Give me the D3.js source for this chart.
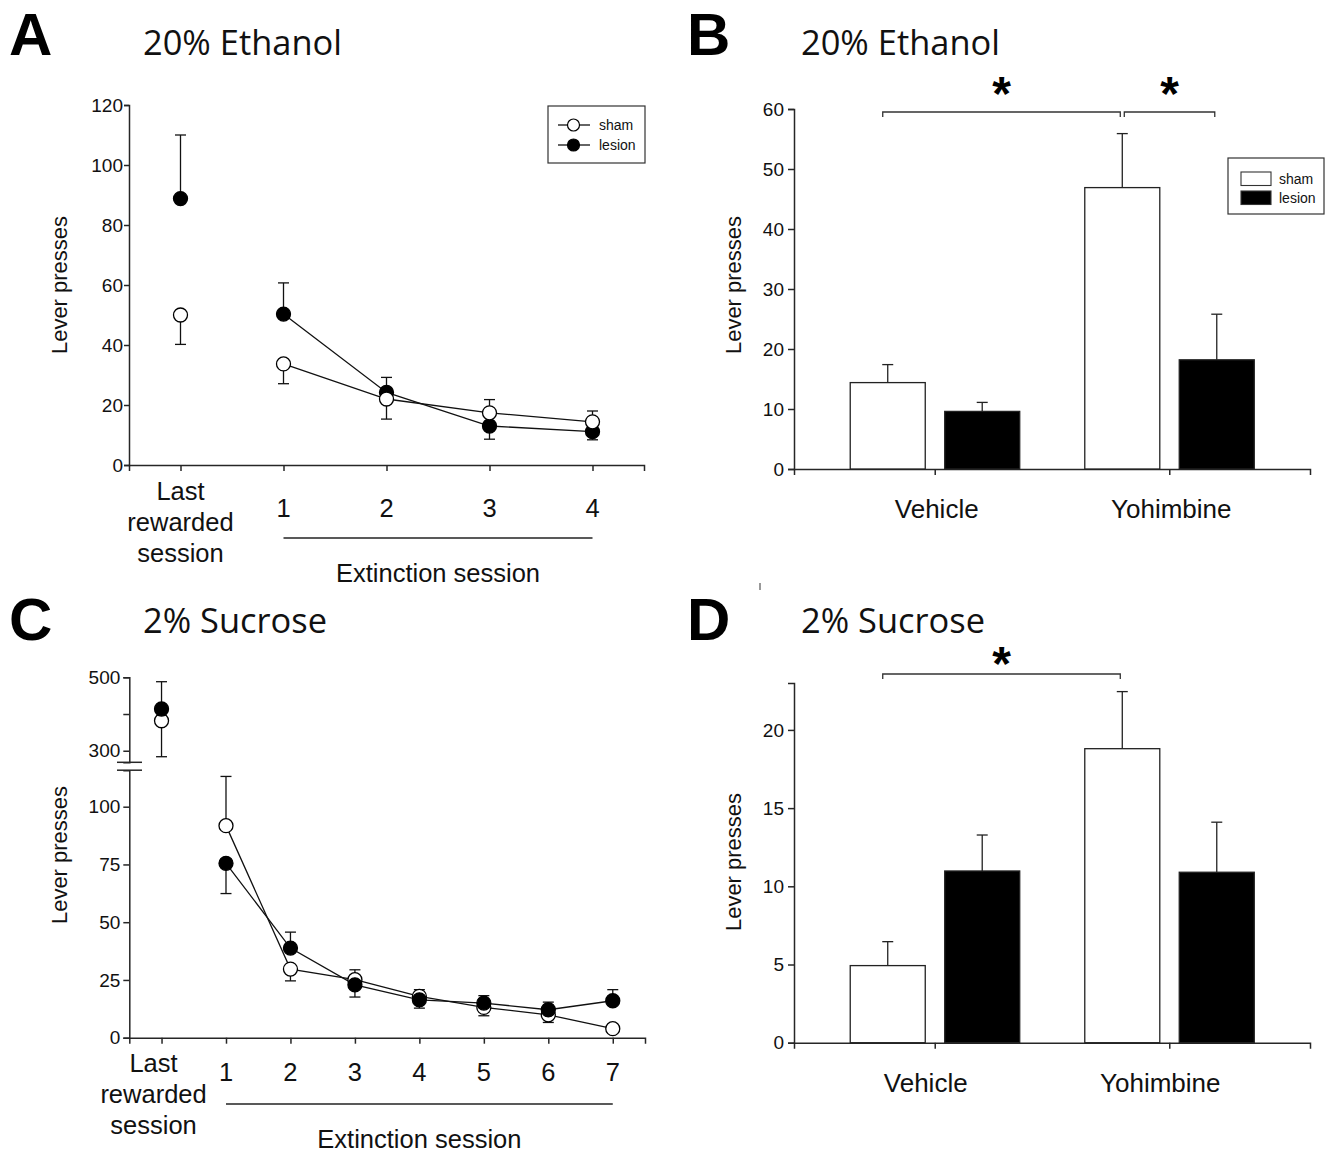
<!DOCTYPE html>
<html><head><meta charset="utf-8">
<script src="https://cdn.jsdelivr.net/npm/d3@7"></script>
<style>body{margin:0;background:#fff}</style>
</head><body>
<svg id="c" width="1327" height="1155" xmlns="http://www.w3.org/2000/svg"></svg>
<script>
// ---------------- DATA ----------------
const seriesNames = ["sham", "lesion"];
const panelLetters = ["A", "B", "C", "D"];
const panelTitles = ["20% Ethanol", "20% Ethanol", "2% Sucrose", "2% Sucrose"];
const yAxisTitle = "Lever presses";
const groupAxisTitle = "Extinction session";

// Panel A – 20% ethanol, extinction
const sessionsA = ["Last rewarded session", "1", "2", "3", "4"];
const shamA = [50.0, 33.7, 22.0, 17.4, 14.4];
const shamSemA = [9.8, 6.6, 6.7, 4.4, 3.6];
const lesionA = [88.8, 50.3, 24.2, 13.0, 11.1];
const lesionSemA = [21.2, 10.4, 5.0, 4.4, 2.7];
const yTicksA = [0, 20, 40, 60, 80, 100, 120];

// Panel C – 2% sucrose, extinction (broken axis)
const sessionsC = ["Last rewarded session", "1", "2", "3", "4", "5", "6", "7"];
const shamC = [381.7, 91.8, 29.7, 25.1, 17.9, 13.1, 9.9, 3.9];
const shamSemC = [98.0, 21.3, 5.1, 4.3, 2.9, 3.6, 3.3, 0.5];
const lesionC = [413.6, 75.5, 38.8, 22.9, 16.4, 15.0, 12.1, 16.0];
const lesionSemC = [74.4, 13.1, 6.9, 5.3, 3.6, 3.2, 3.3, 4.8];
const yTicksCLow = [0, 25, 50, 75, 100];
const yTicksCHigh = [300, 400, 500];
const yTickLabelsCHigh = ["300", "", "500"];

// Panels B & D – reinstatement
const treatments = ["Vehicle", "Yohimbine"];
const shamB = [14.4, 46.9];
const shamSemB = [3.0, 9.0];
const lesionB = [9.6, 18.2];
const lesionSemB = [1.5, 7.6];
const yTicksB = [0, 10, 20, 30, 40, 50, 60];
const sigB = [[0, "sham", 1, "sham"], [1, "sham", 1, "lesion"]];

const shamD = [4.93, 18.8];
const shamSemD = [1.53, 3.65];
const lesionD = [10.98, 10.9];
const lesionSemD = [2.3, 3.2];
const yTicksD = [0, 5, 10, 15, 20];
const sigD = [[0, "sham", 1, "sham"]];

// ---------------- DRAWING ----------------
const svg = d3.select("#c");
const AX = "#262626";
const FONT = "'Liberation Sans', Arial, Helvetica, sans-serif";
const TFONT = "'Open Sans', 'Noto Sans', sans-serif";

function styleAxis(sel, fs) {
  sel.select(".domain").attr("stroke", AX).attr("stroke-width", 1.5);
  sel.selectAll(".tick line").attr("stroke", AX).attr("stroke-width", 1.5);
  sel.selectAll(".tick text").attr("fill", "#111")
    .style("font-family", FONT).style("font-size", (fs || 19) + "px");
}

// panel letters & titles
const letterPos = [[9, 55], [687, 55], [9, 640], [687, 640]];
const titlePos = [[143, 55], [801, 55], [143, 633], [801, 633]];
panelLetters.forEach((L, i) => {
  svg.append("text").attr("x", letterPos[i][0]).attr("y", letterPos[i][1])
    .style("font-family", FONT).style("font-weight", "bold").style("font-size", "60px")
    .attr("fill", "#000").text(L);
});
const titles = panelTitles.map((t, i) => svg.append("text")
  .attr("x", titlePos[i][0]).attr("y", titlePos[i][1])
  .style("font-family", TFONT).style("font-size", "30px").attr("fill", "#111").text(t));
// fit title font so the first title spans the reference width
const w0 = titles[0].node().getComputedTextLength();
const tfs = 30 * 199 / w0;
titles.forEach(t => t.style("font-size", tfs.toFixed(2) + "px"));

function yLabel(cx, cy) {
  svg.append("text").attr("transform", `translate(${cx},${cy}) rotate(-90)`)
    .attr("text-anchor", "middle").style("font-family", FONT).style("font-size", "22px")
    .attr("fill", "#111").text(yAxisTitle);
}

// ---- line panel ----
function linePanel(cfg) {
  const g = svg.append("g");
  const x = d3.scalePoint().domain(cfg.cats).range(cfg.xr).padding(0.5);
  const yOf = (i, v) => cfg.yFor(i)(v);
  const y0 = cfg.y0;

  // x axis
  const xa = g.append("g").attr("transform", `translate(0,${y0})`)
    .call(d3.axisBottom(x).tickSizeOuter(0).tickSize(6).tickFormat(() => ""));
  styleAxis(xa);

  // category labels
  cfg.cats.forEach((c, i) => {
    const lines = c.split(" ");
    const t = g.append("text").attr("text-anchor", "middle")
      .style("font-family", FONT).style("font-size", "25.5px").attr("fill", "#111");
    if (lines.length > 1) {
      lines.forEach((ln, k) => t.append("tspan").attr("x", x(c) + cfg.lastDx)
        .attr("y", cfg.lastY + k * 31).text(ln));
    } else {
      t.attr("x", x(c)).attr("y", cfg.numY).text(c);
    }
  });
  // underline for extinction sessions
  const first = cfg.cats[1], last = cfg.cats[cfg.cats.length - 1];
  g.append("line").attr("x1", x(first)).attr("x2", x(last))
    .attr("y1", cfg.ulY).attr("y2", cfg.ulY).attr("stroke", "#222").attr("stroke-width", 1.6);
  g.append("text").attr("x", (x(first) + x(last)) / 2).attr("y", cfg.extY)
    .attr("text-anchor", "middle").style("font-family", FONT).style("font-size", "25.5px")
    .attr("fill", "#111").text(groupAxisTitle);

  const series = {
    sham: { v: cfg.sham, s: cfg.shamSem, fill: "#fff" },
    lesion: { v: cfg.lesion, s: cfg.lesionSem, fill: "#000" }
  };
  // lines (extinction sessions only)
  seriesNames.forEach(name => {
    const pts = series[name].v.map((v, i) => [x(cfg.cats[i]), yOf(i, v)]).slice(1);
    g.append("path").attr("d", d3.line()(pts)).attr("fill", "none")
      .attr("stroke", "#111").attr("stroke-width", 1.3);
  });
  // error bars: the higher group gets the upper bar, the lower group the lower bar
  seriesNames.forEach(name => {
    const other = name === "sham" ? "lesion" : "sham";
    series[name].v.forEach((v, i) => {
      const up = v >= series[other].v[i];
      const e = up ? v + series[name].s[i] : v - series[name].s[i];
      const xx = x(cfg.cats[i]), ya = yOf(i, v), yb = yOf(i, e);
      g.append("line").attr("x1", xx).attr("x2", xx).attr("y1", ya).attr("y2", yb)
        .attr("stroke", "#111").attr("stroke-width", 1.3);
      g.append("line").attr("x1", xx - 5.5).attr("x2", xx + 5.5).attr("y1", yb).attr("y2", yb)
        .attr("stroke", "#111").attr("stroke-width", 1.3);
    });
  });
  // markers
  cfg.order.forEach(name => {
    series[name].v.forEach((v, i) => {
      g.append("circle").attr("cx", x(cfg.cats[i])).attr("cy", yOf(i, v)).attr("r", 7)
        .attr("fill", series[name].fill).attr("stroke", "#000").attr("stroke-width", 1.3);
    });
  });
  return { g, x };
}

// Panel A
const yA = d3.scaleLinear().domain([0, 120]).range([465, 105]);
linePanel({
  cats: sessionsA, xr: [129, 644], y0: 465, yFor: () => yA,
  sham: shamA, shamSem: shamSemA, lesion: lesionA, lesionSem: lesionSemA,
  lastY: 500, lastDx: 0, numY: 517, ulY: 538, extY: 582, order: ["lesion", "sham"]
});
const yaA = svg.append("g").attr("transform", "translate(129,0)")
  .call(d3.axisLeft(yA).tickValues(yTicksA).tickSizeOuter(0).tickSize(5).tickPadding(1));
styleAxis(yaA);
yLabel(67, 285);

// legend A
(function () {
  const g = svg.append("g");
  g.append("rect").attr("x", 548).attr("y", 106).attr("width", 97).attr("height", 57)
    .attr("fill", "#fff").attr("stroke", "#333").attr("stroke-width", 1.2);
  seriesNames.forEach((n, i) => {
    const yy = 125 + i * 20;
    g.append("line").attr("x1", 558).attr("x2", 590).attr("y1", yy).attr("y2", yy)
      .attr("stroke", "#111").attr("stroke-width", 1.3);
    g.append("circle").attr("cx", 573.5).attr("cy", yy).attr("r", 6)
      .attr("fill", n === "sham" ? "#fff" : "#000").attr("stroke", "#000").attr("stroke-width", 1.2);
    g.append("text").attr("x", 599).attr("y", yy + 5).style("font-family", FONT)
      .style("font-size", "14px").attr("fill", "#111").text(n);
  });
})();

// Panel C (broken axis)
const yCl = d3.scaleLinear().domain([0, 115.8]).range([1037.7, 770.2]);
const yCu = d3.scaleLinear().domain([268.5, 500]).range([762.3, 677.3]);
linePanel({
  cats: sessionsC, xr: [129.3, 645], y0: 1037.7, yFor: i => (i === 0 ? yCu : yCl),
  sham: shamC, shamSem: shamSemC, lesion: lesionC, lesionSem: lesionSemC,
  lastY: 1072, lastDx: -8, numY: 1081, ulY: 1104, extY: 1148, order: ["sham", "lesion"]
});
const yaCl = svg.append("g").attr("transform", "translate(129.3,0)")
  .call(d3.axisLeft(yCl).tickValues(yTicksCLow).tickSizeOuter(0).tickSize(6).tickPadding(3));
styleAxis(yaCl);
const yaCu = svg.append("g").attr("transform", "translate(129.3,0)")
  .call(d3.axisLeft(yCu).tickValues(yTicksCHigh).tickSizeOuter(0).tickSize(6).tickPadding(3)
    .tickFormat((d, i) => yTickLabelsCHigh[i]));
styleAxis(yaCu);
[yCu.range()[0], yCl.range()[1]].forEach(yy => {
  svg.append("line").attr("x1", 117).attr("x2", 142).attr("y1", yy).attr("y2", yy)
    .attr("stroke", AX).attr("stroke-width", 1.5);
});
yLabel(67, 855);

// ---- bar panels ----
function barPanel(cfg) {
  const g = svg.append("g");
  const x = d3.scalePoint().domain(treatments).range([794, 1310]).padding(0.6);
  const x1 = d3.scaleBand().domain(seriesNames).range([-84.5, 85]).paddingInner(0.206);
  const y = cfg.y;
  const xa = g.append("g").attr("transform", `translate(0,${y.range()[0]})`)
    .call(d3.axisBottom(x).tickSizeOuter(0).tickSize(6).tickFormat(() => ""));
  styleAxis(xa);
  const ya = g.append("g").attr("transform", "translate(794,0)")
    .call(d3.axisLeft(y).tickValues(cfg.ticks).tickSizeOuter(0).tickSize(6).tickPadding(4));
  styleAxis(ya);
  treatments.forEach((t, i) => {
    g.append("text").attr("x", x(t) + cfg.labDx).attr("y", cfg.labY).attr("text-anchor", "middle")
      .style("font-family", FONT).style("font-size", "26px").attr("fill", "#111").text(t);
  });
  const vals = { sham: [cfg.sham, cfg.shamSem], lesion: [cfg.lesion, cfg.lesionSem] };
  const cx = (ti, s) => x(treatments[ti]) + x1(s) + x1.bandwidth() / 2;
  seriesNames.forEach(s => {
    treatments.forEach((t, i) => {
      const v = vals[s][0][i], e = v + vals[s][1][i];
      const xc = cx(i, s);
      g.append("line").attr("x1", xc).attr("x2", xc).attr("y1", y(v)).attr("y2", y(e))
        .attr("stroke", "#222").attr("stroke-width", 1.3);
      g.append("line").attr("x1", xc - 5.5).attr("x2", xc + 5.5).attr("y1", y(e)).attr("y2", y(e))
        .attr("stroke", "#222").attr("stroke-width", 1.3);
      g.append("rect").attr("x", x(t) + x1(s)).attr("y", y(v)).attr("width", x1.bandwidth())
        .attr("height", y(0) - y(v)).attr("fill", s === "sham" ? "#fff" : "#000")
        .attr("stroke", "#222").attr("stroke-width", 1.3);
    });
  });
  // significance brackets
  cfg.sig.forEach((sg, k) => {
    const prev = cfg.sig[k - 1];
    const shared = prev && prev[2] === sg[0] && prev[3] === sg[1];
    const xs = cx(sg[0], sg[1]) + (shared ? 2 : -5);
    const xe = cx(sg[2], sg[3]) - 2;
    const by = cfg.brY;
    g.append("path").attr("d", `M${xs},${by + 5}V${by}H${xe}V${by + 5}`)
      .attr("fill", "none").attr("stroke", "#333").attr("stroke-width", 1.3);
    g.append("text").attr("x", (xs + xe) / 2).attr("y", cfg.starY).attr("text-anchor", "middle")
      .style("font-family", FONT).style("font-weight", "bold").style("font-size", "48px")
      .attr("fill", "#000").text("*");
  });
}

const yB = d3.scaleLinear().domain([0, 60]).range([469, 109]);
barPanel({ y: yB, ticks: yTicksB, sham: shamB, shamSem: shamSemB, lesion: lesionB,
  lesionSem: lesionSemB, sig: sigB, brY: 112, starY: 110, labY: 518, labDx: 2 });
yLabel(741, 285);

const yD = d3.scaleLinear().domain([0, 23]).range([1042.7, 683]);
barPanel({ y: yD, ticks: yTicksD, sham: shamD, shamSem: shamSemD, lesion: lesionD,
  lesionSem: lesionSemD, sig: sigD, brY: 674, starY: 680, labY: 1092, labDx: -9 });
yLabel(741, 862);

// legend B
(function () {
  const g = svg.append("g");
  g.append("rect").attr("x", 1228).attr("y", 158).attr("width", 96).attr("height", 56)
    .attr("fill", "#fff").attr("stroke", "#333").attr("stroke-width", 1.2);
  seriesNames.forEach((n, i) => {
    const yy = 172 + i * 19;
    g.append("rect").attr("x", 1241).attr("y", yy).attr("width", 30).attr("height", 13.5)
      .attr("fill", n === "sham" ? "#fff" : "#000").attr("stroke", "#333").attr("stroke-width", 1.1);
    g.append("text").attr("x", 1279).attr("y", yy + 11.5).style("font-family", FONT)
      .style("font-size", "14px").attr("fill", "#111").text(n);
  });
})();

// small stray mark present in the original figure
svg.append("line").attr("x1", 760).attr("x2", 760).attr("y1", 583).attr("y2", 590)
  .attr("stroke", "#555").attr("stroke-width", 1.2);
</script>
</body></html>
